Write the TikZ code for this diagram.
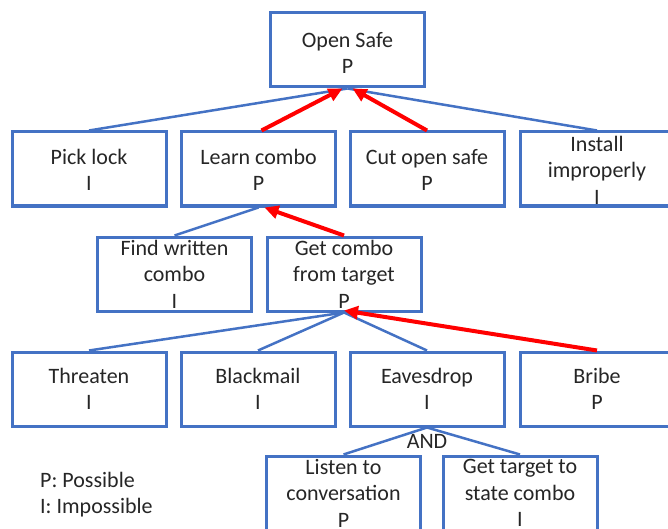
\documentclass[tikz,border=0pt]{standalone}
\usepackage{fontspec}
\setmainfont{Carlito}
\usetikzlibrary{arrows.meta}
\definecolor{boxblue}{HTML}{4472C4}
\definecolor{pathred}{HTML}{FF0000}
\definecolor{inktext}{HTML}{262626}
\begin{document}
\begin{tikzpicture}[x=1pt,y=-1pt,
  box/.style={draw=boxblue,line width=3pt,fill=white,minimum width=154pt,minimum height=74pt,inner sep=0pt},
  lbl/.style={align=center,inner sep=0pt,text=inktext,font=\fontsize{22}{26.5}\selectfont},
  link/.style={draw=boxblue,line width=2.5pt},
  attack/.style={draw=pathred,line width=4pt,-{Triangle[length=14pt,width=13pt]}}]
\useasboundingbox (0,0) rectangle (668,529);
\clip (0,0) rectangle (668,529);

% boxes of the attack tree
\node[box] (os)    at (347.5,50) {};
\node[box] (pick)  at (89,169)   {};
\node[box] (learn) at (258.5,169) {};
\node[box] (cut)   at (427,169)  {};
\node[box] (inst)  at (597,169)  {};
\node[box] (find)  at (174.5,274) {};
\node[box] (getc)  at (344,274)  {};
\node[box] (thr)   at (89,389)   {};
\node[box] (blk)   at (258,389)  {};
\node[box] (eav)   at (427,389)  {};
\node[box] (brb)   at (597,389)  {};
\node[box] (lis)   at (343.5,493) {};
\node[box] (gtt)   at (520,493)  {};

% texts
\node[lbl] at ([yshift=-3pt]os.center) {Open Safe\\P};
\node[lbl] at ([yshift=-1pt]pick.center)  {Pick lock\\I};
\node[lbl] at ([yshift=-1pt]learn.center) {Learn combo\\P};
\node[lbl] at ([yshift=-1pt]cut.center)   {Cut open safe\\P};
\node[lbl] at ([yshift=-1pt]inst.center)  {Install\\improperly\\I};
\node[lbl] at (find)  {Find written\\combo\\I};
\node[lbl] at (getc)  {Get combo\\from target\\P};
\node[lbl] at (thr)   {Threaten\\I};
\node[lbl] at (blk)   {Blackmail\\I};
\node[lbl] at (eav)   {Eavesdrop\\I};
\node[lbl] at (brb)   {Bribe\\P};
\node[lbl] at (lis)   {Listen to\\conversation\\P};
\node[lbl] at (gtt)   {Get target to\\state combo\\I};
\node[lbl] (andlbl) at (427,441) {AND};

% legend
\node[lbl,align=left,anchor=west] (legend) at (40,494.5) {P: Possible\\I: Impossible};

% tree edges
\draw[link] (os.south) -- (pick.north);
\draw[link] (os.south) -- (inst.north);
\draw[link] (learn.south) -- (find.north);
\draw[link] (getc.south) -- (thr.north);
\draw[link] (getc.south) -- (blk.north);
\draw[link] (getc.south) -- (eav.north);
\draw[link] (eav.south) -- (lis.north);
\draw[link] (eav.south) -- (gtt.north);

% feasible attack paths
\draw[attack] ([xshift=3pt]learn.north) -- ([xshift=-5pt]os.south);
\draw[attack] (cut.north) -- ([xshift=5pt]os.south);
\draw[attack] (getc.north) -- ([xshift=6pt]learn.south);
\draw[attack] (brb.north) -- ([yshift=2pt]getc.south);
\end{tikzpicture}
\end{document}
